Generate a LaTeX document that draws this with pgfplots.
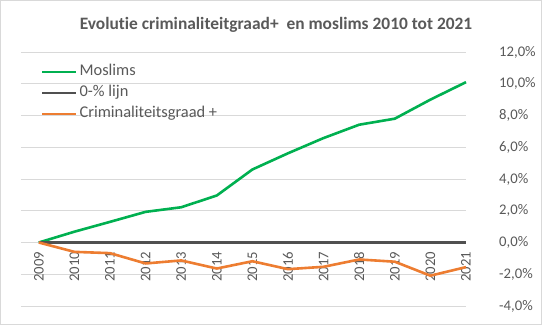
\documentclass[border=0pt]{standalone}
\usepackage{fontspec}
\setmainfont{Carlito}[Ligatures={NoCommon,NoRequired,NoContextual}]
\usepackage{pgfplots}
\pgfplotsset{compat=1.18}
\definecolor{cgreen}{HTML}{00B050}
\definecolor{corange}{HTML}{ED7D31}
\definecolor{cdark}{HTML}{505050}
\definecolor{ctext}{HTML}{595959}
\definecolor{cgrid}{HTML}{D9D9D9}
\begin{document}
\begin{tikzpicture}[x=1pt,y=1pt]
\path[use as bounding box] (0,0) rectangle (542,325);
\draw[cgrid, line width=0.8pt] (0.5,0.5) rectangle (541.5,324.5);
\node[text=ctext, font=\bfseries\fontsize{17.4}{20}\selectfont] at (276,300) {Evolutie criminaliteitgraad+\ \ en moslims 2010 tot 2021};
\begin{axis}[
  at={(21pt,19pt)}, anchor=south west,
  scale only axis, width=445pt, height=254pt,
  xmin=-0.5, xmax=12, ymin=-4, ymax=12,
  axis x line=middle, axis y line=right,
  hide obscured x ticks=false, hide obscured y ticks=false,
  axis line style={draw=none},
  tick style={draw=none}, major tick length=0pt,
  ytick={-4,-2,0,2,4,6,8,10,12},
  yticklabels={{-4,0\%},{-2,0\%},{0,0\%},{2,0\%},{4,0\%},{6,0\%},{8,0\%},{10,0\%},{12,0\%}},
  yticklabel style={anchor=west, inner sep=0pt, xshift=33pt, text=ctext, font=\fontsize{14.7}{16}\selectfont},
  xtick={0,1,2,3,4,5,6,7,8,9,10,11,12},
  xticklabels={2009,2010,2011,2012,2013,2014,2015,2016,2017,2018,2019,2020,2021},
  xticklabel style={rotate=90, anchor=east, inner sep=0pt, yshift=0pt, text=ctext, font=\fontsize{14.7}{16}\selectfont},
  xticklabel shift=9pt,
  ymajorgrids, grid style={cgrid, line width=0.8pt},
  clip=false,
  legend style={at={(axis description cs:0.045,0.955)}, anchor=north west, draw=none, fill=none, inner sep=0pt, outer sep=0pt, font=\fontsize{16.4}{19}\selectfont, text=ctext, row sep=4pt, column sep=1pt, nodes={inner sep=1pt, text height=11pt, text depth=4pt}},
  legend cell align=left,
  legend image code/.code={\draw[#1] (0pt,0pt) -- (34pt,0pt);},
]
\addplot[cgreen, line width=2.6pt] coordinates {
(0,0) (1,0.68) (2,1.3) (3,1.93) (4,2.22) (5,2.96) (6,4.6) (7,5.62) (8,6.58) (9,7.42) (10,7.8) (11,9.0) (12,10.1)};
\addlegendentry{Moslims}
\addplot[cdark, line width=2.2pt] coordinates {
(0,0) (1,0) (2,0) (3,0) (4,0) (5,0) (6,0) (7,0) (8,0) (9,0) (10,0) (11,0) (12,0)};
\addlegendentry{0-\% lijn}
\addplot[corange, line width=2.6pt] coordinates {
(0,0) (1,-0.59) (2,-0.67) (3,-1.32) (4,-1.13) (5,-1.64) (6,-1.18) (7,-1.68) (8,-1.53) (9,-1.07) (10,-1.21) (11,-2.09) (12,-1.55)};
\addlegendentry{Criminaliteitsgraad +}
\end{axis}
\end{tikzpicture}
\end{document}
